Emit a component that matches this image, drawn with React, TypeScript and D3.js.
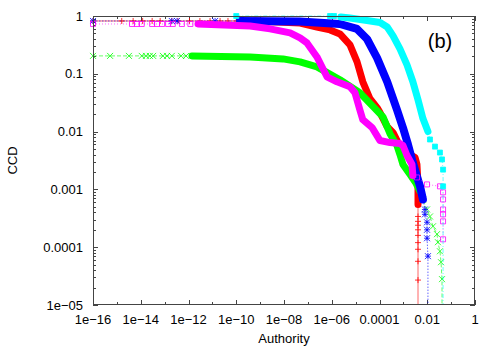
import React, { useEffect, useRef } from "react";
import * as d3 from "d3";

// [authority, ccd] pairs
// each series: sparse head points, dense band, sparse tail points
const redHead = [[1e-16, 0.82], [1.6e-15, 0.82], [4.8e-15, 0.82], [1.2e-14, 0.82], [3e-14, 0.82], [6.5e-14, 0.82], [2e-13, 0.82], [3.6e-13, 0.82], [1.1e-12, 0.82], [3e-12, 0.82], [8e-12, 0.82], [2.1e-11, 0.82], [4.5e-11, 0.82], [1e-10, 0.82], [1.7e-10, 0.82], [3.1e-10, 0.82]];
const redBand = [[6.1e-10, 0.82], [4.7e-8, 0.757], [2.4e-7, 0.646], [8.5e-7, 0.574], [2.2e-6, 0.49], [5.8e-6, 0.316], [1.15e-5, 0.161], [2e-5, 0.0728], [4e-5, 0.037], [7.9e-5, 0.026], [1.05e-4, 0.0213], [2.1e-4, 0.0122], [3.7e-4, 0.0096], [6e-4, 0.00646], [1.17e-3, 0.0049], [1.9e-3, 0.004], [3.1e-3, 0.00356], [3.7e-3, 0.0027], [4.1e-3, 0.00122], [4.1e-3, 0.00055]];
const redTail = [[4.1e-3, 3.4e-4], [4.1e-3, 2.8e-4], [4.1e-3, 2.4e-4], [4.1e-3, 2.0e-4], [4.1e-3, 1.6e-4], [4.1e-3, 1.2e-4], [4.1e-3, 9.2e-5], [4.1e-3, 5.7e-5], [4.1e-3, 2.7e-5], [4.1e-3, 4e-6]];

const greenHead = [[1e-16, 0.204], [5.2e-16, 0.204], [3.2e-15, 0.204], [1.1e-14, 0.204], [1.66e-14, 0.204], [2.4e-14, 0.204], [3.3e-14, 0.204], [8.5e-14, 0.204], [1.26e-13, 0.204], [2e-13, 0.204], [4.9e-13, 0.204], [7.9e-13, 0.204]];
const greenBand = [[1.4e-12, 0.204], [3.8e-10, 0.196], [9.1e-9, 0.181], [4.7e-8, 0.161], [2.4e-7, 0.132], [2.2e-6, 0.0788], [1.5e-5, 0.047], [1.4e-4, 0.018], [2.75e-4, 0.0092], [5.4e-4, 0.00574], [7.2e-4, 0.004], [9.6e-4, 0.0027], [1.9e-3, 0.00181], [3.4e-3, 0.00127], [5e-3, 0.00092]];
const greenTail = [[6.6e-3, 6.7e-4], [9.8e-3, 4.5e-4], [1.3e-2, 3.4e-4], [1.74e-2, 2.3e-4], [2.56e-2, 1.68e-4], [2.8e-2, 1.22e-4], [3.4e-2, 8.5e-5], [3.77e-2, 5.5e-5], [4.15e-2, 2.8e-5], [4.15e-2, 4e-6]];

const blueHead = [[1e-16, 0.82], [2e-13, 0.82], [3.3e-13, 0.82], [1.3e-11, 0.82]];
const blueBand = [[1.44e-10, 0.82], [4.7e-8, 0.8], [2.2e-6, 0.728], [1.15e-5, 0.597], [3e-5, 0.4], [7.9e-5, 0.189], [2.1e-4, 0.0728], [5.4e-4, 0.0239], [9.6e-4, 0.0117], [1.56e-3, 0.006], [2.5e-3, 0.0029], [3.7e-3, 0.00168], [5e-3, 0.00113], [6.6e-3, 0.00067]];
const blueTail = [[8e-3, 4.5e-4], [8e-3, 3.7e-4], [9.8e-3, 2.7e-4], [9.8e-3, 2.0e-4], [9.8e-3, 1.43e-4], [1.07e-2, 7e-5], [1.07e-2, 4e-6]];

const magentaHead = [[1e-16, 0.728], [4.3e-15, 0.728], [6.9e-15, 0.728], [1.1e-14, 0.728], [3e-14, 0.728], [4.8e-14, 0.728], [7.8e-14, 0.728], [1.4e-13, 0.728], [2.2e-13, 0.728], [5.3e-13, 0.728], [1.2e-12, 0.728]];
const magentaBand = [[2.5e-12, 0.728], [3.8e-10, 0.67], [2.6e-9, 0.6], [1.8e-8, 0.51], [4.7e-8, 0.418], [9.2e-8, 0.342], [2.4e-7, 0.196], [6.3e-7, 0.0888], [1.66e-6, 0.0728], [5.8e-6, 0.0597], [9.4e-6, 0.047], [1.5e-5, 0.0239], [2e-5, 0.0161], [4.9e-5, 0.0117], [1.05e-4, 0.007], [2.75e-4, 0.00646], [7.2e-4, 0.0062], [9.6e-4, 0.00574], [1.42e-3, 0.00386], [2.3e-3, 0.0027], [2.5e-3, 0.00174]];
const magentaTail = [[3.7e-3, 1.61e-3], [9.8e-3, 1.22e-3], [3.4e-2, 1.13e-3], [4.6e-2, 8.9e-4], [4.6e-2, 6.7e-4], [4.6e-2, 4.5e-4], [4.6e-2, 3.7e-4], [4.6e-2, 2.8e-4], [4.6e-2, 1.37e-4]];

const cyanHead = [[1e-10, 1], [8.5e-7, 1], [1.24e-6, 1]];
const cyanBand = [[2.4e-6, 0.96], [5.8e-6, 0.924], [3e-5, 0.837], [1.05e-4, 0.773], [2.1e-4, 0.646], [3.7e-4, 0.452], [7.2e-4, 0.27], [1.42e-3, 0.143], [2.5e-3, 0.0728], [4.1e-3, 0.0356], [6.6e-3, 0.0168], [1.07e-2, 0.01]];
const cyanTail = [[1.3e-2, 7.3e-3], [2.11e-2, 5.5e-3], [3.4e-2, 4.34e-3], [4.15e-2, 3.3e-3], [4.6e-2, 2.2e-3], [4.6e-2, 1.13e-3], [4.6e-2, 4e-6]];

const xMajor = [1e-16, 1e-14, 1e-12, 1e-10, 1e-8, 1e-6, 1e-4, 1e-2, 1];
const xLabels = ["1e\u221216", "1e\u221214", "1e\u221212", "1e\u221210", "1e\u221208", "1e\u221206", "0.0001", "0.01", "1"];
const xMinor = [1e-15, 1e-13, 1e-11, 1e-9, 1e-7, 1e-5, 1e-3, 1e-1];
const yMajor = [1e-5, 1e-4, 1e-3, 1e-2, 1e-1, 1];
const yLabels = ["1e\u221205", "0.0001", "0.001", "0.01", "0.1", "1"];

const series = [
  { color: "#ff0000", head: redHead, band: redBand, tail: redTail, marker: "plus", dash: null, bw: 7 },
  { color: "#00ff00", head: greenHead, band: greenBand, tail: greenTail, marker: "cross", dash: "4,2", bw: 7 },
  { color: "#0000ff", head: blueHead, band: blueBand, tail: blueTail, marker: "star", dash: "1.5,1.5", bw: 8 },
  { color: "#ff00ff", head: magentaHead, band: magentaBand, tail: magentaTail, marker: "square", dash: "1,2", bw: 7 },
  { color: "#00ffff", head: cyanHead, band: cyanBand, tail: cyanTail, marker: "fsquare", dash: "4,2,1,2", bw: 7 },
];

const markerPath = (kind: string) => {
  const s = 3;
  if (kind === "plus") return `M${-s},0H${s}M0,${-s}V${s}`;
  if (kind === "cross") return `M${-s},${-s}L${s},${s}M${-s},${s}L${s},${-s}`;
  if (kind === "star") return `M${-s},0H${s}M0,${-s}V${s}M${-s},${-s}L${s},${s}M${-s},${s}L${s},${-s}`;
  return `M${-2.5},${-2.5}h5v5h-5z`;
};

const App = () => {
  const ref = useRef<SVGSVGElement>(null);

  useEffect(() => {
    const svg = d3.select(ref.current);
    svg.selectAll("*").remove();

    const left = 93, right = 475, top = 16, bottom = 305;
    const x = d3.scaleLog().domain([1e-16, 1]).range([left, right]);
    const y = d3.scaleLog().domain([1e-5, 1]).range([bottom, top]);
    const font = "'Liberation Sans', Arial, sans-serif";
    const axisColor = "#444";

    svg.append("rect").attr("width", 500).attr("height", 350).attr("fill", "#fff");

    svg.append("clipPath").attr("id", "plot")
      .append("rect").attr("x", left).attr("y", top - 4)
      .attr("width", right - left).attr("height", bottom - top + 4);

    // ticks, drawn inside on all four sides
    const ticks = svg.append("g").attr("stroke", axisColor).attr("stroke-width", 1);
    xMajor.concat(xMinor).forEach((v, i) => {
      const len = i < xMajor.length ? 5 : 3;
      const px = Math.round(x(v)) + 0.5;
      ticks.append("line").attr("x1", px).attr("x2", px).attr("y1", bottom).attr("y2", bottom - len);
      ticks.append("line").attr("x1", px).attr("x2", px).attr("y1", top).attr("y2", top + len);
    });
    y.ticks().forEach((v) => {
      const major = yMajor.some((m) => Math.abs(m - v) / m < 1e-6);
      const len = major ? 5 : 3;
      const py = Math.round(y(v)) + 0.5;
      ticks.append("line").attr("x1", left).attr("x2", left + len).attr("y1", py).attr("y2", py);
      ticks.append("line").attr("x1", right).attr("x2", right - len).attr("y1", py).attr("y2", py);
    });

    const plot = svg.append("g");
    const line = d3.line<number[]>().x((d) => x(d[0])).y((d) => y(d[1]));

    series.forEach((s) => {
      const all = s.head.concat(s.band, s.tail);
      plot.append("path")
        .attr("d", line(all))
        .attr("clip-path", "url(#plot)")
        .attr("fill", "none")
        .attr("stroke", s.color)
        .attr("stroke-opacity", 0.6)
        .attr("stroke-width", 1)
        .attr("stroke-dasharray", s.dash);

      plot.append("path")
        .attr("d", line(s.band))
        .attr("clip-path", "url(#plot)")
        .attr("fill", "none")
        .attr("stroke", s.color)
        .attr("stroke-width", s.bw)
        .attr("stroke-linejoin", "round")
        .attr("stroke-linecap", "round");

      const pts = s.head.concat(s.tail).filter((d) => d[1] >= 1e-5);
      plot.selectAll(null)
        .data(pts)
        .join("path")
        .attr("transform", (d) => `translate(${x(d[0])},${y(d[1])})`)
        .attr("d", markerPath(s.marker))
        .attr("fill", s.marker === "fsquare" ? s.color : "none")
        .attr("stroke", s.color)
        .attr("stroke-opacity", 0.8)
        .attr("stroke-width", 1);
    });

    svg.append("rect")
      .attr("x", left + 0.5).attr("y", top + 0.5)
      .attr("width", right - left - 1).attr("height", bottom - top - 1)
      .attr("fill", "none").attr("stroke", axisColor).attr("stroke-width", 1);

    const labels = svg.append("g").attr("font-family", font).attr("font-size", 13).attr("fill", "#000");
    xMajor.forEach((v, i) => {
      labels.append("text").attr("x", x(v)).attr("y", 324)
        .attr("text-anchor", "middle").text(xLabels[i]);
    });
    yMajor.forEach((v, i) => {
      labels.append("text").attr("x", 83).attr("y", y(v)).attr("dy", "0.35em")
        .attr("text-anchor", "end").text(yLabels[i]);
    });

    labels.append("text").attr("x", (left + right) / 2).attr("y", 343)
      .attr("text-anchor", "middle").text("Authority");
    labels.append("text")
      .attr("transform", `translate(17,${(top + bottom) / 2}) rotate(-90)`)
      .attr("text-anchor", "middle").text("CCD");

    svg.append("text").attr("x", 440).attr("y", 48)
      .attr("text-anchor", "middle").attr("font-family", font).attr("font-size", 20)
      .text("(b)");
  }, []);

  return (
    <svg ref={ref} width={500} height={350} style={{ position: "absolute", left: 0, top: 0 }} />
  );
};

export default App;
